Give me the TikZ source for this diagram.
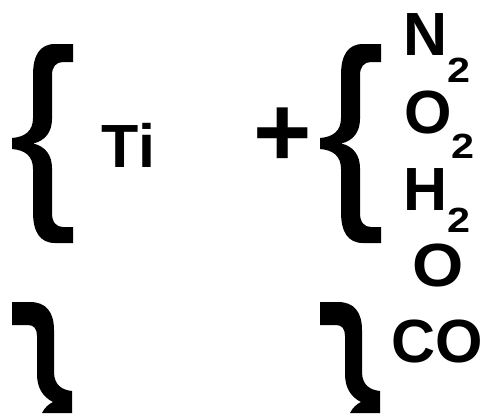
\documentclass[tikz,border=0pt]{standalone}
\usepackage{fontspec}
\setmainfont{Liberation Sans}
\tikzset{
  chem/.style={inner sep=0pt, outer sep=0pt, font=\fontsize{61}{61}\selectfont\bfseries},
  plussign/.style={inner sep=0pt, outer sep=0pt, font=\fontsize{100}{100}\selectfont\bfseries},
  openbrace/.pic={
    \fill (73,44) -- (55,44) .. controls (40,44) and (33,55) .. (33,75) -- (33,118)
      .. controls (33,131) and (25,137) .. (12,138) -- (12,149)
      .. controls (25,150) and (33,156) .. (33,169) -- (33,212)
      .. controls (33,232) and (40,243) .. (55,243) -- (73,243) -- (73,227) -- (63,227)
      .. controls (56,227) and (52,222) .. (52,213) -- (52,168)
      .. controls (52,155) and (45,146) .. (33,143.5)
      .. controls (45,141) and (52,132) .. (52,119) -- (52,75)
      .. controls (52,67) and (56,62) .. (63,62) -- (73,62) -- cycle;
  },
  bracefrag/.pic={
    \fill (12,302) -- (30,302) .. controls (46,302) and (54,312) .. (54,330) -- (54,372)
      .. controls (54,385) and (62,390) .. (72,391) -- (72,413) -- (42,413)
      .. controls (45,407) and (49,404) .. (53,402)
      .. controls (43,397) and (37,388) .. (37,374) -- (37,336)
      .. controls (37,329) and (34,325) .. (28,325) -- (12,325) -- cycle;
  }
}
\newcommand{\subtwo}[1]{\raisebox{-#1pt}{\fontsize{35}{35}\selectfont\scalebox{1.18}[1]{2}}}
\begin{document}
\begin{tikzpicture}[x=1pt,y=-1pt]
\useasboundingbox (0,0) rectangle (488,413);
\pic at (0,0) {openbrace};
\pic at (308,0) {openbrace};
\pic at (0,0) {bracefrag};
\pic at (308,0) {bracefrag};
\node[chem, anchor=base] (ti) at (128.5,167) {Ti};
\node[plussign, anchor=center] (plus) at (282.5,137) {+};
\node[chem, anchor=base west] (n2) at (403.5,55) {N\subtwo{27}};
\node[chem, anchor=base west] (o2) at (404,133) {O\subtwo{25}};
\node[chem, anchor=base west] (h2) at (403.5,210) {H\subtwo{22}};
\node[chem, anchor=base] (o) at (438.5,286) {\scalebox{1.08}[1]{O}};
\node[chem, anchor=base] (co) at (437.5,362) {CO};
\end{tikzpicture}
\end{document}
